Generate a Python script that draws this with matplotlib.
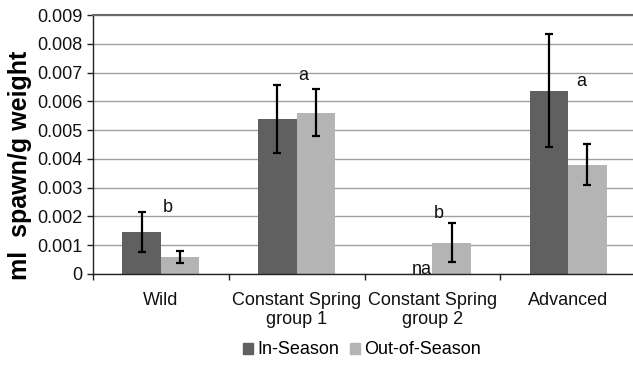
import matplotlib
matplotlib.use("Agg")
import matplotlib.pyplot as plt
import numpy as np
from matplotlib.patches import Patch

plt.rcParams['font.family'] = ['Liberation Sans', 'DejaVu Sans']

categories = ["Wild", "Constant Spring\ngroup 1", "Constant Spring\ngroup 2", "Advanced"]
in_season = [0.00145, 0.00538, 0.0, 0.00636]
in_season_err_low = [0.00070, 0.00118, 0.0, 0.00195]
in_season_err_high = [0.00070, 0.00118, 0.0, 0.00197]
out_season = [0.00059, 0.00559, 0.00108, 0.00378]
out_season_err_low = [0.00021, 0.00080, 0.00066, 0.00069]
out_season_err_high = [0.00021, 0.00083, 0.00069, 0.00073]
letters = ["b", "a", "b", "a"]
letter_x = [0.05, 1.05, 2.045, 3.095]
letter_y = [0.00215, 0.00674, 0.00194, 0.00653]
na_x = 1.92

dark = "#606060"
light = "#b4b4b4"

fig = plt.figure(figsize=(6.33, 3.65), dpi=100)
ax = fig.add_axes([93 / 633, 1 - 274 / 365, 543 / 633, 259 / 365])

x = np.arange(len(categories))
w = 0.284
ax.bar(x - w / 2, in_season, width=w, color=dark, zorder=2)
ax.bar(x + w / 2, out_season, width=w, color=light, zorder=2)

errkw = dict(fmt="none", ecolor="black", elinewidth=1.6, capsize=3, capthick=1.6, zorder=3)
mask = np.array(in_season) > 0
ax.errorbar((x - w / 2)[mask], np.array(in_season)[mask],
            yerr=[np.array(in_season_err_low)[mask], np.array(in_season_err_high)[mask]], **errkw)
ax.errorbar(x + w / 2, out_season, yerr=[out_season_err_low, out_season_err_high], **errkw)

for lab, lx, ly in zip(letters, letter_x, letter_y):
    ax.text(lx, ly, lab, ha="center", va="baseline", fontsize=13, color="#111111")
ax.text(na_x, 0.0, "na", ha="center", va="baseline", fontsize=13, color="#111111")

ax.set_xlim(-0.5, 3.5)
ax.set_ylim(0, 0.009)
ax.set_yticks(np.arange(0, 0.0091, 0.001))
ax.set_yticklabels(["0"] + [f"{v:.3f}" for v in np.arange(0.001, 0.0091, 0.001)])
ax.yaxis.grid(True, color="#a0a0a0", linewidth=1.0, zorder=0)
ax.set_axisbelow(True)

ax.set_xticks(x)
ax.set_xticklabels(categories, fontsize=13, color="#111111", linespacing=1.18)
ax.set_xticks(np.arange(-0.5, 3.6, 1), minor=True)
ax.tick_params(axis="x", which="major", length=0, pad=13)
ax.tick_params(axis="x", which="minor", length=4.5, width=1, direction="out", color="#222222")
ax.tick_params(axis="y", length=4.3, width=1, direction="out", color="#222222", labelsize=13,
               labelcolor="#111111", pad=3)

ax.spines["right"].set_visible(False)
ax.spines["top"].set_color("#6a6a6a")
ax.spines["top"].set_linewidth(1.5)
for s in ["left", "bottom"]:
    ax.spines[s].set_color("#222222")
    ax.spines[s].set_linewidth(1.0)

ax.set_ylabel("ml  spawn/g weight", fontsize=18, fontweight="bold")
ax.yaxis.set_label_coords(-0.112, 0.42)

handles = [Patch(color=dark, label="In-Season"), Patch(color=light, label="Out-of-Season")]
fig.legend(handles=handles, loc="center", bbox_to_anchor=(362 / 633, 1 - 350 / 365), ncol=2,
           frameon=False, fontsize=13, handlelength=0.55, handleheight=0.55, handletextpad=0.25,
           columnspacing=0.6, borderpad=0, borderaxespad=0)

fig.savefig("out.png", dpi=100)
